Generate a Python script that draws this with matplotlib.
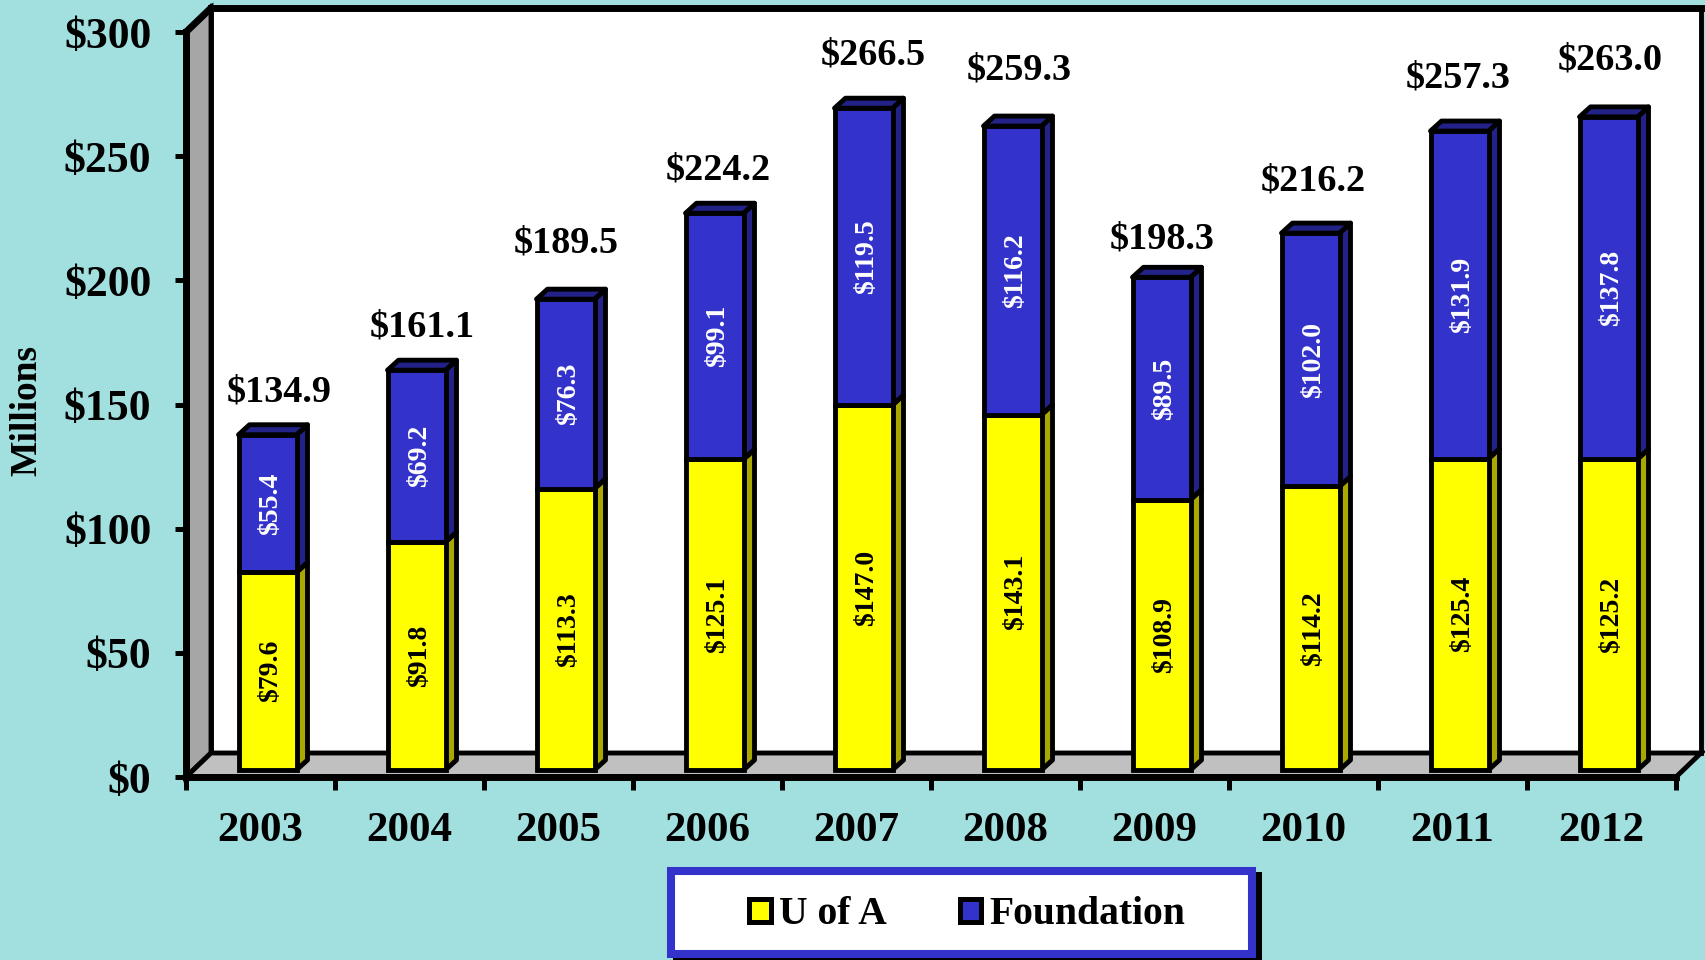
#!/usr/bin/env python3
"""Stacked 3D look bars, U of A and Foundation"""
import matplotlib
matplotlib.use("Agg")
import matplotlib.pyplot as plt
from matplotlib.patches import Patch, Rectangle
from matplotlib.transforms import Affine2D

plt.rcParams['font.family'] = ['Liberation Serif', 'DejaVu Serif']
plt.rcParams['font.weight'] = 'bold'

years = ['2003', '2004', '2005', '2006', '2007',
         '2008', '2009', '2010', '2011', '2012']
uofa = [79.6, 91.8, 113.3, 125.1, 147.0, 143.1, 108.9, 114.2, 125.4, 125.2]
foundation = [55.4, 69.2, 76.3, 99.1, 119.5, 116.2, 89.5, 102.0, 131.9, 137.8]
totals = [134.9, 161.1, 189.5, 224.2, 266.5, 259.3, 198.3, 216.2, 257.3, 263.0]
y_ticks = [0, 50, 100, 150, 200, 250, 300]

# hand placed total labels, pixels from the bar top
total_dx = [12, 6, 1, 4, 10, 7, 1, 3, -1, 2]
total_dy = [43, 43, 56, 43, 53, 56, 38, 52, 53, 57]

BG = '#A2E0E0'
YELLOW = '#FFFF00'
YELLOW_DARK = '#A8A800'
BLUE = '#3333CC'
BLUE_DARK = '#222288'
EDGE = 3.5

W, H = 1705, 960
fig = plt.figure(figsize=(W / 100, H / 100), dpi=100, facecolor=BG)
ax = fig.add_axes([186 / W, (H - 777) / H, 1490 / W, 745 / H])
ax.set_xlim(0, 10)
ax.set_ylim(0, 300)
ax.patch.set_visible(False)

# data units per pixel, for the fake depth
ux = 10 / 1490
uy = 300 / 745
wall_x, wall_y = 25 * ux, 24 * uy
side_x, side_y = 11 * ux, 10 * uy
bar_w = 58 * ux

ax.fill([wall_x, 10 + wall_x, 10 + wall_x, wall_x],
        [wall_y, wall_y, 300 + wall_y, 300 + wall_y],
        fc='white', ec='black', lw=EDGE, clip_on=False, zorder=1)
ax.plot([wall_x, 10 + wall_x], [300 + wall_y] * 2, color='black', lw=5,
        clip_on=False, zorder=2, solid_capstyle='projecting')
ax.fill([0, wall_x, wall_x, 0], [0, wall_y, 300 + wall_y, 300],
        fc='#A6A6A6', ec='black', lw=EDGE, clip_on=False, zorder=2)
ax.plot([0, wall_x], [300, 300 + wall_y], color='black', lw=5,
        clip_on=False, zorder=3)
ax.fill([0, 10, 10 + wall_x, wall_x], [0, 0, wall_y, wall_y],
        fc='#C0C0C0', ec='black', lw=EDGE, clip_on=False, zorder=2)

# bars sit a little in front of the back wall
shift = ax.transData + Affine2D().translate(7, 7)
text_shift = shift + Affine2D().translate(3.5, 0)
x = [i + 0.5 for i in range(len(years))]
top = [u + f for u, f in zip(uofa, foundation)]


def side_face(xc, y0, y1, color):
    """Right hand face of one bar segment"""
    r = xc + bar_w / 2
    ax.fill([r, r + side_x, r + side_x, r],
            [y0, y0 + side_y, y1 + side_y, y1],
            fc=color, ec='black', lw=EDGE, transform=shift,
            clip_on=False, zorder=3, joinstyle='round')


for i, xc in enumerate(x):
    side_face(xc, 0, uofa[i], YELLOW_DARK)
    side_face(xc, uofa[i], top[i], BLUE_DARK)
    left = xc - bar_w / 2
    ax.fill([left, left + bar_w, left + bar_w + side_x, left + side_x],
            [top[i], top[i], top[i] + side_y, top[i] + side_y],
            fc=BLUE_DARK, ec='black', lw=EDGE, transform=shift,
            clip_on=False, zorder=3, joinstyle='round')

ax.bar(x, uofa, bar_w, color=YELLOW, ec='black', lw=EDGE,
       transform=shift, clip_on=False, zorder=4)
ax.bar(x, foundation, bar_w, bottom=uofa, color=BLUE, ec='black', lw=EDGE,
       transform=shift, clip_on=False, zorder=4)

for i, xc in enumerate(x):
    ax.text(xc, uofa[i] / 2, '${:.1f}'.format(uofa[i]), rotation=90,
            ha='center', va='center', fontsize=20, color='black',
            transform=text_shift, zorder=5)
    ax.text(xc, uofa[i] + foundation[i] / 2, '${:.1f}'.format(foundation[i]),
            rotation=90, ha='center', va='center', fontsize=20, color='white',
            transform=text_shift, zorder=5)
    ax.text(xc + total_dx[i] * ux, top[i] + total_dy[i] * uy,
            '${:.1f}'.format(totals[i]), ha='center', va='center',
            fontsize=27.5, transform=shift, zorder=5)

for s in ['top', 'right']:
    ax.spines[s].set_visible(False)
for s in ['left', 'bottom']:
    ax.spines[s].set_linewidth(5)
    ax.spines[s].set_zorder(6)
    ax.spines[s].set_capstyle('projecting')

ax.set_yticks(y_ticks)
ax.set_yticklabels(['${}'.format(v) for v in y_ticks], fontsize=31.5)
ax.set_xticks(range(11))
ax.set_xticklabels([])
ax.set_xticks(x, minor=True)
ax.set_xticklabels(years, minor=True, fontsize=31)
ax.tick_params(axis='y', length=8, width=3.6, pad=17)
ax.tick_params(axis='x', which='major', length=9, width=3.6)
ax.tick_params(axis='x', which='minor', length=0, pad=25.5)

fig.text(27 / W, 1 - 411 / H, 'Millions', rotation=90, ha='center',
         va='center', fontsize=27)

# legend box, the shadow is a plain black copy of it
fig.add_artist(Rectangle((673 / W, 1 - 960 / H), 589 / W, 88 / H,
                         fc='black', ec='none', transform=fig.transFigure,
                         clip_on=False, zorder=8))
fig.add_artist(Rectangle((671 / W, 1 - 954 / H), 581 / W, 83 / H,
                         fc='white', ec=BLUE, lw=5.8,
                         transform=fig.transFigure, zorder=9))

handles = [Patch(fc=YELLOW, ec='black', lw=3.6, label='U of A'),
           Patch(fc=BLUE, ec='black', lw=3.6, label='Foundation')]
leg = fig.legend(handles=handles, loc='center', ncols=2,
                 bbox_to_anchor=(967 / W, 1 - 915 / H), fontsize=28.5,
                 frameon=False, handlelength=0.55, handleheight=0.55,
                 handletextpad=0.2, columnspacing=1.85, borderpad=0,
                 borderaxespad=0)
leg.set_zorder(10)

fig.savefig('out.png', dpi=100, facecolor=BG)
